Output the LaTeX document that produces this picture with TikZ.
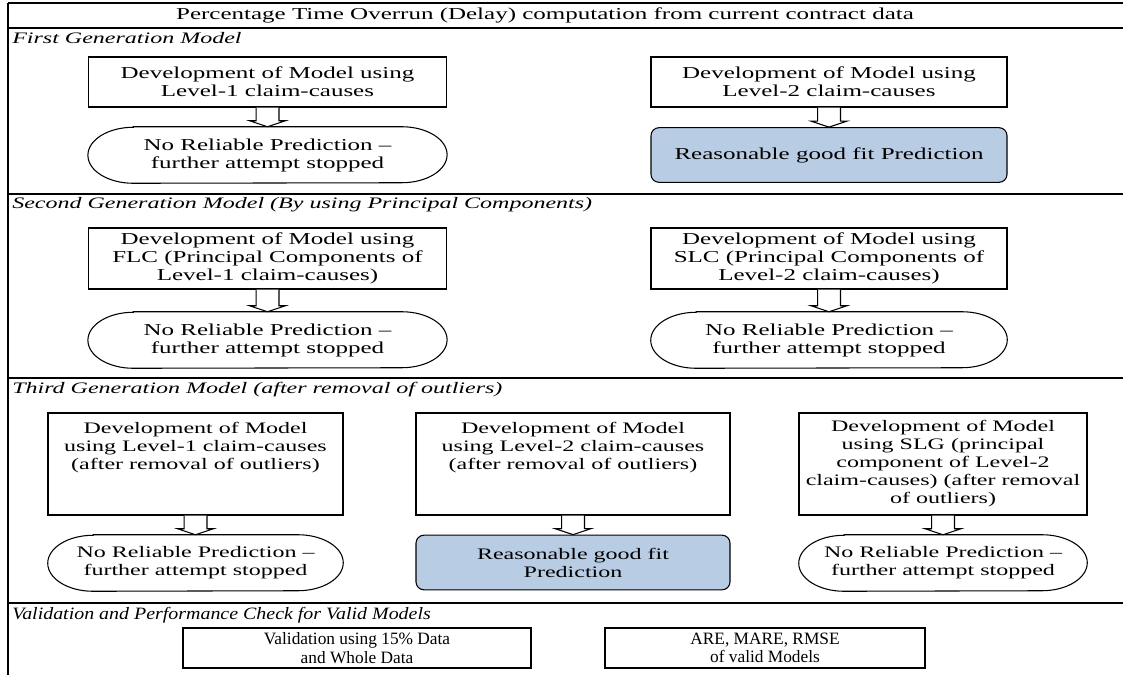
\documentclass[tikz,border=0pt]{standalone}
\usepackage{fontspec}
\setmainfont{Liberation Serif}
\newfontfamily\widefont[FakeStretch=1.5]{Liberation Serif}
\newfontfamily\midfont[FakeStretch=1.15]{Liberation Serif}
\usetikzlibrary{calc}
\definecolor{fitblue}{RGB}{184,204,228}
\tikzset{
  txt/.style={font={\widefont\fontsize{12.5}{13.5}\selectfont}, align=center, inner sep=2pt},
  txtb/.style={font={\widefont\fontsize{12}{13.5}\selectfont}, align=center, inner sep=2pt},
  box/.style={txt, draw, line width=0.8pt},
  boxb/.style={txtb, draw, line width=0.8pt, minimum height=76.5pt},
  term/.style={txt, draw=none, minimum height=42pt},
  termb/.style={txtb, draw=none, minimum height=42pt},
  fitbox/.style={txt, draw, line width=0.8pt, fill=fitblue, rounded corners=6pt, minimum height=41pt},
  lab/.style={font={\widefont\fontsize{12}{13.5}\selectfont\itshape}, anchor=west, inner sep=0pt},
  vbox/.style={draw, line width=0.8pt, align=center, inner sep=2pt, font={\fontsize{13}{14}\selectfont}, minimum height=30pt},
  frame/.style={line width=0.9pt},
  blockarrow/.style={line width=0.8pt, fill=white}
}
\newcommand\dnarrow[2]{%
  \draw[blockarrow] let \p1=(#1.south), \p2=(#2.north) in
   (\x1-8.6pt,\y1) -- (\x1-8.6pt,\y2+4.5pt) -- (\x1-13.5pt,\y2+4.5pt) -- (\x1,\y2)
   -- (\x1+13.5pt,\y2+4.5pt) -- (\x1+8.6pt,\y2+4.5pt) -- (\x1+8.6pt,\y1);}
\newcommand\termline[1]{%
  \draw[line width=0.8pt] ([xshift=34pt]#1.north west) -- ([xshift=-34pt]#1.north east)
   arc[start angle=90,end angle=-90,x radius=34pt,y radius=21pt]
   -- ([xshift=34pt]#1.south west)
   arc[start angle=270,end angle=90,x radius=34pt,y radius=21pt] -- cycle;}
\begin{document}
\begin{tikzpicture}[x=0.75pt,y=-0.75pt]
\useasboundingbox (0,0) rectangle (1123,675);
% frame
\draw[frame] (8,3) -- (1123,3);
\draw[frame] (8,3) -- (8,675);
\draw[frame] (8,28) -- (1123,28);
\draw[frame] (8,194) -- (1123,194);
\draw[frame] (8,378) -- (1123,378);
\draw[frame] (8,603) -- (1123,603);
% header and labels
\node[txt] (hdr) at (545,15) {Percentage Time Overrun (Delay) computation from current contract data};
\node[lab] (l1) at (12,38) {First Generation Model};
\node[lab] (l2) at (12,205) {Second Generation Model (By using Principal Components)};
\node[lab] (l3) at (12,390) {Third Generation Model (after removal of outliers)};
\node[anchor=west, inner sep=0pt, font={\midfont\fontsize{13}{14}\selectfont\itshape}] (l4) at (12,615) {Validation and Performance Check for Valid Models};
% row 1
\node[box, minimum width=269pt, minimum height=37.5pt] (b11) at (267.5,82) {Development of Model using\\Level-1 claim-causes};
\node[box, minimum width=267pt, minimum height=37.5pt] (b12) at (829,82) {Development of Model using\\Level-2 claim-causes};
\node[term, minimum width=269pt] (t11) at (267.5,155) {No Reliable Prediction –\\further attempt stopped};
\node[fitbox, minimum width=267pt] (t12) at (829,155) {Reasonable good fit Prediction};
\termline{t11}
\dnarrow{b11}{t11}
\dnarrow{b12}{t12}
% row 2
\node[box, minimum width=269pt, minimum height=45.75pt] (b21) at (267.5,258.5) {Development of Model using\\FLC (Principal Components of\\Level-1 claim-causes)};
\node[box, minimum width=267pt, minimum height=45.75pt] (b22) at (829,258.5) {Development of Model using\\SLC (Principal Components of\\Level-2 claim-causes)};
\node[term, minimum width=269pt] (t21) at (267.5,340) {No Reliable Prediction –\\further attempt stopped};
\node[term, minimum width=267pt] (t22) at (829,340) {No Reliable Prediction –\\further attempt stopped};
\termline{t21}
\termline{t22}
\dnarrow{b21}{t21}
\dnarrow{b22}{t22}
% row 3
\node[boxb, minimum width=221.25pt] (b31) at (195.5,464) {Development of Model\\using Level-1 claim-causes\\(after removal of outliers)\\\mbox{}\\\mbox{}};
\node[boxb, minimum width=235.5pt] (b32) at (573,464) {Development of Model\\using Level-2 claim-causes\\(after removal of outliers)\\\mbox{}\\\mbox{}};
\node[boxb, minimum width=216pt] (b33) at (943,464) {Development of Model\\using SLG (principal\\component of Level-2\\claim-causes) (after removal\\of outliers)};
\node[termb, minimum width=221.25pt] (t31) at (195.5,563) {No Reliable Prediction –\\further attempt stopped};
\node[fitbox, txtb, minimum width=235.5pt] (t32) at (573,562.5) {Reasonable good fit\\Prediction};
\node[termb, minimum width=216pt] (t33) at (943,563) {No Reliable Prediction –\\further attempt stopped};
\termline{t31}
\termline{t33}
\dnarrow{b31}{t31}
\dnarrow{b32}{t32}
\dnarrow{b33}{t33}
% row 4
\node[vbox, minimum width=261pt] (v1) at (357,648) {Validation using 15\% Data\\and Whole Data};
\node[vbox, minimum width=240pt] (v2) at (765,648) {ARE, MARE, RMSE\\of valid Models};
\end{tikzpicture}
\end{document}
